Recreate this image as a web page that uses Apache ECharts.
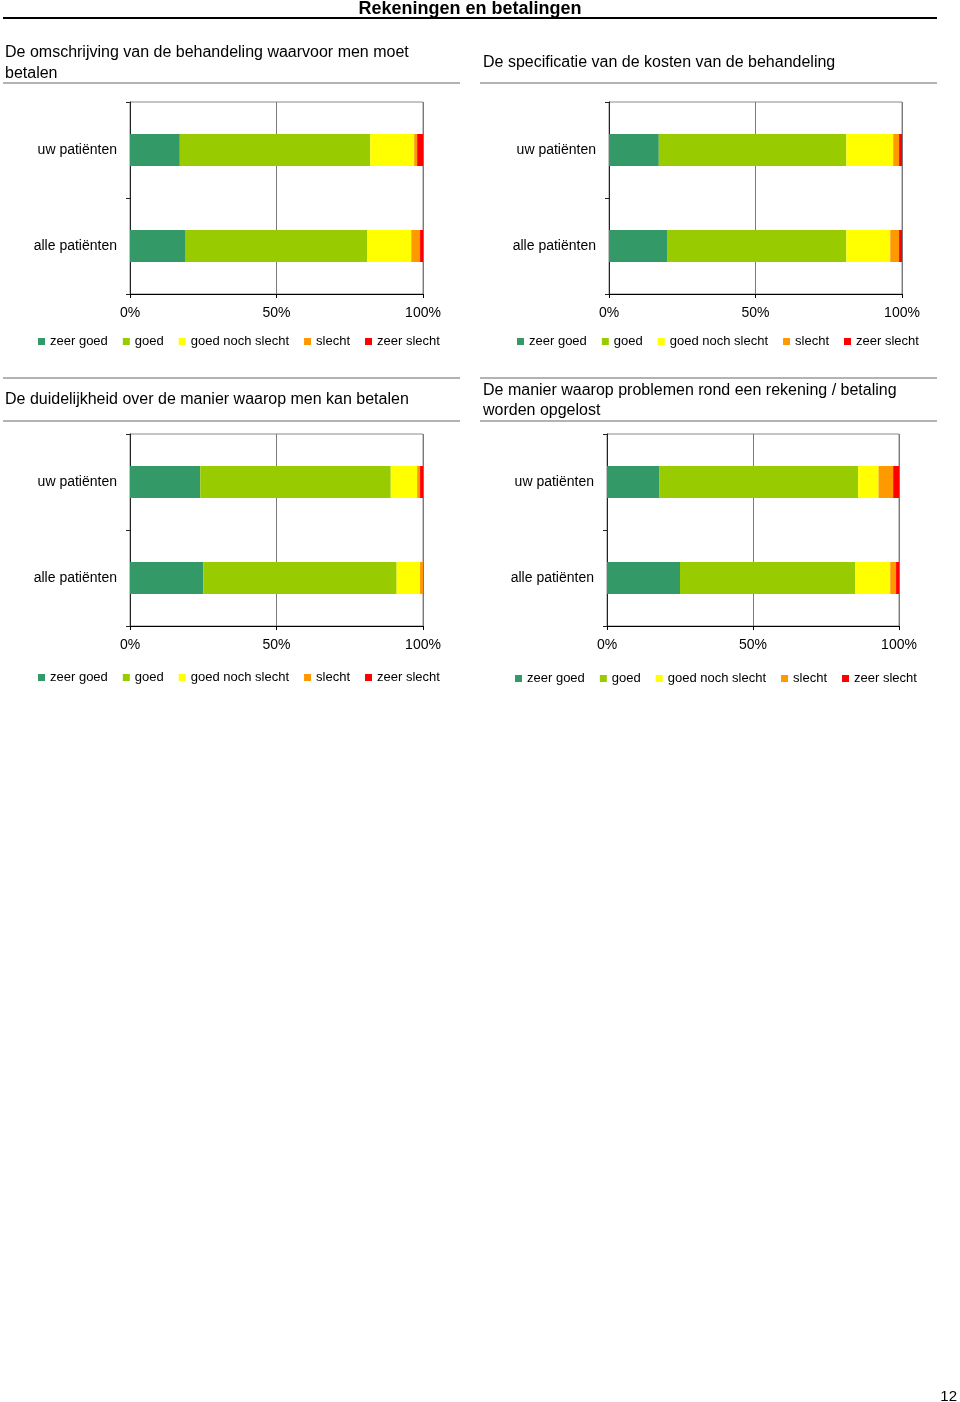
<!DOCTYPE html>
<html>
<head>
<meta charset="utf-8">
<script src="https://cdn.jsdelivr.net/npm/echarts@6/dist/echarts.min.js"></script>
<style>
html,body{margin:0;padding:0;background:#fff;}
#c{width:960px;height:1402px;}
</style>
</head>
<body>
<div id="c"></div>
<script>
// ---- data ----
var categories = ['uw patiënten', 'alle patiënten'];
var seriesNames = ['zeer goed', 'goed', 'goed noch slecht', 'slecht', 'zeer slecht'];
var seriesColors = ['#339966', '#99CC00', '#FFFF00', '#FF9900', '#FF0000'];
var xTicks = [0, 50, 100];

var omschrijvingUw   = [17, 65, 15, 1, 2];
var omschrijvingAlle = [19, 62, 15, 3, 1];
var specificatieUw   = [17, 64, 16, 2, 1];
var specificatieAlle = [20, 61, 15, 3, 1];
var duidelijkheidUw   = [24, 65, 9, 1, 1];
var duidelijkheidAlle = [25, 66, 8, 1, 0];
var problemenUw   = [18, 68, 7, 5, 2];
var problemenAlle = [25, 60, 12, 2, 1];

var pageTitle = 'Rekeningen en betalingen';
var chartTitles = [
  'De omschrijving van de behandeling waarvoor men moet\nbetalen',
  'De specificatie van de kosten van de behandeling',
  'De duidelijkheid over de manier waarop men kan betalen',
  'De manier waarop problemen rond een rekening / betaling\nworden opgelost'
];
var pageNumber = '12';

// ---- layout ----
var FONT = "'Liberation Sans', Arial, Helvetica, sans-serif";
var panels = [
  {uw: omschrijvingUw, alle: omschrijvingAlle, grid: {left: 130, top: 102, width: 293, height: 192}, legend: {left: 38, top: 335}},
  {uw: specificatieUw, alle: specificatieAlle, grid: {left: 609, top: 102, width: 293, height: 192}, legend: {left: 517, top: 335}},
  {uw: duidelijkheidUw, alle: duidelijkheidAlle, grid: {left: 130, top: 434, width: 293, height: 192}, legend: {left: 38, top: 671}},
  {uw: problemenUw, alle: problemenAlle, grid: {left: 607, top: 434, width: 292, height: 192}, legend: {left: 515, top: 672}}
];

var grids = [], xAxes = [], yAxes = [], series = [], legends = [];
panels.forEach(function (p, i) {
  grids.push(Object.assign({show: true, borderColor: '#8a8a8a', borderWidth: 1, containLabel: false}, p.grid));
  xAxes.push({
    type: 'value', gridIndex: i, min: xTicks[0], max: xTicks[xTicks.length - 1], interval: xTicks[1] - xTicks[0],
    axisLine: {show: true, lineStyle: {color: '#000', width: 1}},
    axisTick: {show: true, length: 4, lineStyle: {color: '#000'}},
    axisLabel: {formatter: '{value}%', color: '#000', fontSize: 14, fontFamily: FONT, margin: 12},
    splitLine: {show: true, lineStyle: {color: '#7a7a7a', width: 1}}
  });
  yAxes.push({
    type: 'category', gridIndex: i, data: categories, inverse: true,
    axisLine: {show: true, lineStyle: {color: '#222', width: 1}},
    axisTick: {show: true, length: 4, lineStyle: {color: '#222'}},
    axisLabel: {color: '#000', fontSize: 14, fontFamily: FONT, margin: 13, padding: [2, 0, 0, 0]},
    splitLine: {show: false}
  });
  seriesNames.forEach(function (name, k) {
    series.push({
      name: name, type: 'bar', stack: 'p' + i, xAxisIndex: i, yAxisIndex: i,
      barWidth: 32, itemStyle: {color: seriesColors[k]},
      data: [p.uw[k], p.alle[k]], animation: false
    });
  });
  legends.push({
    data: seriesNames, left: p.legend.left, top: p.legend.top, icon: 'rect',
    itemWidth: 7, itemHeight: 7, itemGap: 15, padding: 0,
    textStyle: {color: '#000', fontSize: 13, fontFamily: FONT}
  });
});

function hline(x1, x2, y, color, w) {
  return {type: 'line', silent: true, shape: {x1: x1, y1: y, x2: x2, y2: y}, style: {stroke: color, lineWidth: w}};
}
function txt(x, y, text, opts) {
  return {type: 'text', silent: true, style: Object.assign({x: x, y: y, text: text, fill: '#000', font: '16px ' + FONT, textVerticalAlign: 'top'}, opts || {})};
}

var graphics = [
  txt(470, 0, pageTitle, {font: 'bold 18px ' + FONT, textAlign: 'center'}),
  hline(3, 937, 18, '#000', 2),
  txt(5, 42, chartTitles[0], {lineHeight: 21}),
  hline(3, 460, 83, '#9a9a9a', 1.5),
  txt(483, 55, chartTitles[1]),
  hline(480, 937, 83, '#9a9a9a', 1.5),
  hline(3, 460, 378, '#9a9a9a', 1.5),
  txt(5, 392, chartTitles[2]),
  hline(3, 460, 421, '#9a9a9a', 1.5),
  hline(480, 937, 378, '#9a9a9a', 1.5),
  txt(483, 381, chartTitles[3], {lineHeight: 20}),
  hline(480, 937, 421, '#9a9a9a', 1.5),
  txt(957, 1389, pageNumber, {font: '15px ' + FONT, textAlign: 'right'})
];

var chart = echarts.init(document.getElementById('c'), null, {renderer: 'canvas'});
chart.setOption({
  animation: false,
  backgroundColor: '#fff',
  grid: grids, xAxis: xAxes, yAxis: yAxes, series: series, legend: legends,
  graphic: graphics
});
</script>
</body>
</html>
